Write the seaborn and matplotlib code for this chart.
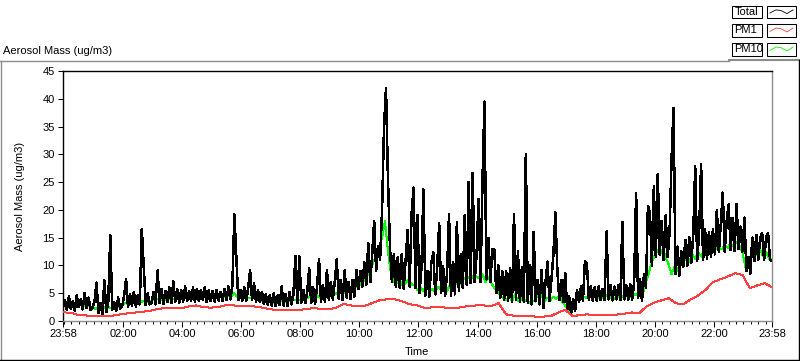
import numpy as np
import pandas as pd
import matplotlib
matplotlib.use("Agg")
import matplotlib.pyplot as plt
import seaborn as sns
from matplotlib.patches import Rectangle
from matplotlib.lines import Line2D

# ---------------- data ----------------
# Total aerosol mass, one sample every 4 minutes starting at 23:58
total_00_06 = [
    2.4, 3.8, 2.0, 4.4, 2.2, 3.6, 1.8, 4.6, 2.5, 3.9, 2.1, 5.0, 2.3, 4.2, 2.0,
    2.4, 3.5, 6.9, 1.5, 3.2, 1.3, 7.3, 1.6, 3.6, 15.4, 2.0, 3.4, 1.8, 4.2, 2.2,
    2.6, 4.4, 7.6, 2.5, 4.8, 2.8, 5.2, 2.6, 4.6, 3.0, 16.6, 9.8, 2.9, 5.0, 3.0,
    3.2, 5.2, 3.0, 9.1, 3.3, 5.8, 3.1, 5.4, 3.4, 6.0, 3.2, 7.1, 3.5, 5.7, 3.3,
    5.6, 3.5, 6.2, 3.6, 5.4, 3.7, 6.0, 3.5, 5.8, 3.6, 5.6, 3.8, 6.1, 3.4, 5.5,
    3.6, 5.4, 3.5, 5.6, 3.7, 5.2, 3.6, 5.8, 3.8, 6.2, 3.9, 6.4, 19.2, 11.7, 3.8,
]
total_06_12 = [
    5.6, 3.7, 6.0, 3.6, 5.8, 9.2, 3.8, 6.8, 3.5, 5.6, 3.4, 5.2, 3.1, 4.8, 2.9,
    4.6, 2.8, 5.0, 2.7, 4.6, 2.9, 6.2, 2.8, 4.8, 2.7, 5.2, 3.0, 4.8, 11.7, 3.2,
    11.6, 3.3, 5.6, 3.2, 5.2, 9.5, 3.3, 6.0, 3.1, 6.2, 11.1, 3.5, 6.4, 3.4, 9.2,
    3.8, 7.0, 3.9, 7.2, 11.1, 4.0, 7.4, 3.8, 9.1, 4.2, 7.0, 4.0, 7.4, 4.4, 9.2,
    5.8, 9.0, 6.2, 10.5, 6.6, 14.0, 7.0, 12.0, 18.0, 9.0, 13.5, 11.0, 19.9, 35.0, 41.9,
    25.5, 13.4, 7.0, 12.0, 6.2, 11.5, 6.0, 12.0, 5.8, 11.0, 16.4, 6.2, 19.3, 24.0, 6.0,
]
total_12_18 = [
    19.0, 5.0, 9.5, 23.7, 4.6, 9.0, 4.4, 10.5, 12.3, 4.8, 9.6, 17.6, 5.0, 9.8, 4.5,
    8.5, 19.3, 4.6, 10.5, 4.8, 17.8, 5.5, 12.0, 6.0, 19.1, 6.5, 25.0, 6.8, 26.7, 7.0,
    12.0, 21.9, 7.0, 25.2, 39.5, 7.5, 15.0, 7.0, 13.0, 12.8, 5.0, 10.0, 4.2, 9.0, 3.8,
    9.0, 3.6, 9.5, 3.5, 19.3, 3.8, 12.5, 3.4, 9.6, 3.5, 30.1, 3.2, 10.0, 3.0, 16.0,
    3.6, 7.4, 3.0, 9.2, 2.4, 7.0, 10.7, 3.6, 7.4, 11.9, 19.5, 9.2, 3.8, 7.4, 3.4,
    8.6, 2.0, 4.4, 1.4, 4.0, 1.8, 5.6, 3.4, 6.2, 3.6, 10.7, 10.4, 3.8, 6.2, 3.7,
]
total_18_24 = [
    6.0, 3.7, 6.2, 3.8, 5.8, 3.8, 16.1, 3.9, 6.4, 3.7, 6.2, 3.9, 6.4, 3.8, 17.8,
    3.9, 6.4, 3.8, 6.6, 3.9, 7.0, 23.1, 4.2, 7.5, 3.6, 8.4, 6.0, 20.7, 19.5, 10.0,
    24.2, 11.5, 26.4, 12.0, 18.0, 11.0, 19.0, 11.5, 16.0, 29.2, 38.3, 8.5, 13.4, 8.2, 12.5,
    9.8, 14.6, 10.0, 15.0, 10.5, 15.5, 27.8, 10.8, 16.0, 28.3, 11.0, 16.5, 11.2, 16.0, 11.5,
    16.5, 12.0, 20.0, 12.4, 17.5, 23.1, 12.5, 18.0, 21.0, 12.8, 18.5, 12.6, 21.0, 13.0, 17.0,
    12.5, 18.6, 9.0, 11.5, 8.5, 15.0, 10.8, 15.5, 11.0, 15.0, 15.8, 11.0, 15.0, 15.8, 11.0,
    10.8,
]

# PM10, one sample every 6 minutes starting at 23:58
pm10_00_12 = [
    2.8, 2.6, 3.0, 2.6, 2.8, 2.5, 3.0, 2.7, 2.8, 2.6,
    2.4, 2.2, 2.5, 2.0, 2.4, 2.6, 2.3, 2.5, 2.4, 2.6,
    3.0, 3.2, 3.1, 3.4, 3.2, 3.5, 3.3, 3.6, 3.4, 3.5,
    3.7, 3.8, 4.0, 3.8, 3.9, 3.7, 4.1, 3.9, 4.0, 4.0,
    4.1, 4.2, 4.4, 4.6, 4.2, 4.1, 4.3, 4.2, 4.4, 4.2,
    4.1, 4.2, 4.1, 4.3, 4.2, 4.4, 4.5, 4.4, 5.0, 4.3,
    4.6, 4.2, 4.4, 4.1, 4.2, 4.0, 3.9, 3.7, 3.6, 3.4,
    3.4, 3.3, 3.5, 3.4, 3.6, 3.4, 3.7, 3.5, 3.8, 3.8,
    3.8, 4.0, 3.9, 4.2, 4.4, 4.2, 4.6, 4.1, 4.4, 4.7,
    4.6, 5.0, 4.8, 5.2, 5.4, 5.1, 5.6, 5.8, 5.4, 6.0,
    6.2, 6.8, 7.4, 8.2, 9.0, 10.5, 11.8, 13.2, 15.0, 18.0,
    12.5, 8.5, 7.0, 6.8, 7.2, 6.4, 6.8, 7.5, 6.6, 6.4,
]
pm10_12_24 = [
    5.6, 6.0, 5.4, 6.5, 5.4, 5.8, 5.2, 6.2, 5.5, 5.4,
    5.4, 6.5, 6.0, 7.0, 6.4, 7.2, 7.8, 8.0, 7.5, 8.2,
    8.0, 7.6, 8.4, 7.0, 8.0, 6.8, 6.0, 5.4, 4.6, 4.2,
    3.8, 4.4, 3.6, 4.8, 3.6, 4.2, 3.4, 3.8, 3.2, 3.6,
    3.5, 6.0, 4.5, 3.6, 4.2, 3.8, 4.4, 4.0, 4.6, 3.5,
    2.8, 2.0, 1.8, 3.0, 3.8, 4.0, 4.4, 4.2, 4.6, 4.3,
    4.3, 4.1, 4.5, 4.0, 4.6, 4.2, 4.4, 4.0, 4.5, 4.3,
    4.5, 4.8, 4.4, 5.0, 4.6, 5.2, 4.0, 6.5, 8.0, 10.0,
    11.5, 12.8, 12.0, 13.0, 11.5, 10.2, 8.4, 9.8, 9.0, 10.5,
    10.6, 11.4, 10.6, 12.0, 11.2, 12.4, 11.6, 12.6, 11.8, 12.4,
    12.6, 13.0, 13.2, 12.9, 13.6, 13.2, 14.0, 13.4, 14.2, 13.6,
    12.4, 9.6, 10.4, 11.5, 12.5, 11.8, 12.8, 11.6, 12.4, 11.2,
    11.0,
]

# PM1, one sample every 15 minutes starting at 23:58
pm1_values = [
    1.55, 1.5, 1.1, 1.0, 0.95, 0.9, 0.95, 1.0, 1.25, 1.4, 1.55, 1.7, 1.9, 2.2, 2.35, 2.35,
    2.3, 2.6, 2.8, 2.5, 2.4, 2.5, 2.85, 2.8, 2.75, 2.7, 2.6, 2.4, 2.1, 2.0, 1.95, 2.0,
    1.95, 2.2, 2.3, 2.2, 2.1, 2.4, 3.1, 2.8, 2.7, 2.8, 3.3, 3.8, 3.9, 3.9, 3.5, 3.0,
    2.8, 2.35, 2.45, 2.5, 2.4, 2.3, 2.5, 2.7, 2.8, 2.8, 2.7, 3.2, 1.2, 0.95, 0.9, 0.85,
    0.8, 0.8, 0.85, 1.5, 2.0, 0.9, 1.05, 1.2, 1.05, 1.0, 1.05, 1.15, 1.3, 1.55, 1.4, 2.6,
    3.3, 3.7, 4.1, 3.2, 3.0, 3.9, 4.6, 5.6, 7.0, 7.5, 8.0, 8.6, 8.3, 5.9, 6.4, 6.8, 6.1,
]

x_tick_labels = ["23:58", "02:00", "04:00", "06:00", "08:00", "10:00", "12:00",
                 "14:00", "16:00", "18:00", "20:00", "22:00", "23:58"]
y_ticks = [0, 5, 10, 15, 20, 25, 30, 35, 40, 45]
series_names = ["Total", "PM1", "PM10"]
series_colors = ["#000000", "#ff4040", "#00ff00"]

# ---------------- build frames (hours since 23:58) ----------------
total = total_00_06 + total_06_12 + total_12_18 + total_18_24
pm10 = pm10_00_12 + pm10_12_24
df_total = pd.DataFrame({"t": np.arange(len(total)) * 4 / 60.0, "v": total})
df_pm10 = pd.DataFrame({"t": np.arange(len(pm10)) * 6 / 60.0, "v": pm10})
df_pm1 = pd.DataFrame({"t": np.arange(len(pm1_values)) * 15 / 60.0, "v": pm1_values})

# ---------------- figure ----------------
W, H = 800, 361
fig = plt.figure(figsize=(W / 100, H / 100), dpi=100)
plt.rcParams["font.family"] = ["Liberation Sans", "DejaVu Sans"]
FS = 8

def fx(px):
    return px / W

def fy(py):
    return 1 - py / H

ax = fig.add_axes([fx(63), fy(321), fx(772) - fx(63), fy(71) - fy(321)])

sns.lineplot(data=df_pm10, x="t", y="v", ax=ax, color=series_colors[2], lw=0.72,
             estimator=None, sort=False, antialiased=False, zorder=2)
sns.lineplot(data=df_total, x="t", y="v", ax=ax, color=series_colors[0], lw=1.1,
             estimator=None, sort=False, antialiased=False, zorder=3)
sns.lineplot(data=df_pm1, x="t", y="v", ax=ax, color=series_colors[1], lw=0.72,
             estimator=None, sort=False, antialiased=False, zorder=4)

ax.set_xlim(0, 24)
ax.set_ylim(0, 45)
ax.set_xlabel("")
ax.set_ylabel("")
ax.set_facecolor("white")

for side in ["top", "left"]:
    ax.spines[side].set_color("black")
    ax.spines[side].set_linewidth(1.0)
for side in ["bottom", "right"]:
    ax.spines[side].set_color("#8c8c8c")
    ax.spines[side].set_linewidth(1.0)

# ticks
ax.set_yticks(y_ticks)
ax.set_yticklabels([str(v) for v in y_ticks], fontsize=FS)
major_x = [0.0] + [2 * k + 2 / 60 for k in range(1, 12)] + [24.0]
ax.set_xticks(major_x)
ax.set_xticklabels(x_tick_labels, fontsize=FS)
minor_x = [2 / 60 + 0.25 * k for k in range(96)]
ax.set_xticks(minor_x, minor=True)
ax.tick_params(axis="y", direction="out", length=3.6, width=0.75, pad=2.2, colors="black")
ax.tick_params(axis="x", which="major", direction="out", length=4.3, width=0.75, pad=1.5)
ax.tick_params(axis="x", which="minor", direction="out", length=2.2, width=0.75)
ax.tick_params(axis="y", which="minor", left=False)

# axis labels
fig.text(fx(417), fy(352), "Time", ha="center", va="center", fontsize=FS)
fig.text(fx(20), fy(196), "Aerosol Mass (ug/m3)", ha="center", va="center",
         rotation=90, fontsize=FS)
fig.text(fx(3), fy(53.5), "Aerosol Mass (ug/m3)", ha="left", va="baseline", fontsize=FS)

# outer panel frame
gray = "#8c8c8c"
fig.add_artist(Line2D([fx(0), fx(729)], [fy(61), fy(61)], color=gray, lw=1.0))
fig.add_artist(Line2D([fx(729), fx(800)], [fy(60), fy(60)], color=gray, lw=1.5))
fig.add_artist(Line2D([fx(0.5), fx(0.5)], [fy(61), fy(360)], color=gray, lw=1.0))
fig.add_artist(Line2D([fx(0), fx(800)], [fy(359.5), fy(359.5)], color="black", lw=1.0))
fig.add_artist(Line2D([fx(799), fx(799)], [fy(60), fy(360)], color="black", lw=1.0))

# legend (plot legend boxes at the top right)
rows = [(5.5, 18), (23.5, 36.5), (42.5, 55.5)]
for name, col, (y0, y1) in zip(series_names, series_colors, rows):
    fig.add_artist(Rectangle((fx(732), fy(y1)), fx(762) - fx(732), fy(y0) - fy(y1),
                             transform=fig.transFigure, fill=False, ec="black", lw=0.75))
    fig.text(fx(734.5), fy((y0 + y1) / 2), name, ha="left", va="center", fontsize=FS)
    fig.add_artist(Rectangle((fx(767), fy(y1)), fx(796) - fx(767), fy(y0) - fy(y1),
                             transform=fig.transFigure, fill=False, ec="black", lw=0.75))
    xs = [770, 776, 781, 787, 793]
    hgt = y1 - y0
    ys = [y0 + 0.6 * hgt, y0 + 0.35 * hgt, y0 + 0.4 * hgt, y0 + 0.65 * hgt, y0 + 0.35 * hgt]
    fig.add_artist(Line2D([fx(v) for v in xs], [fy(v) for v in ys], color=col, lw=0.6,
                          antialiased=True))

fig.savefig("out.png", dpi=100)
